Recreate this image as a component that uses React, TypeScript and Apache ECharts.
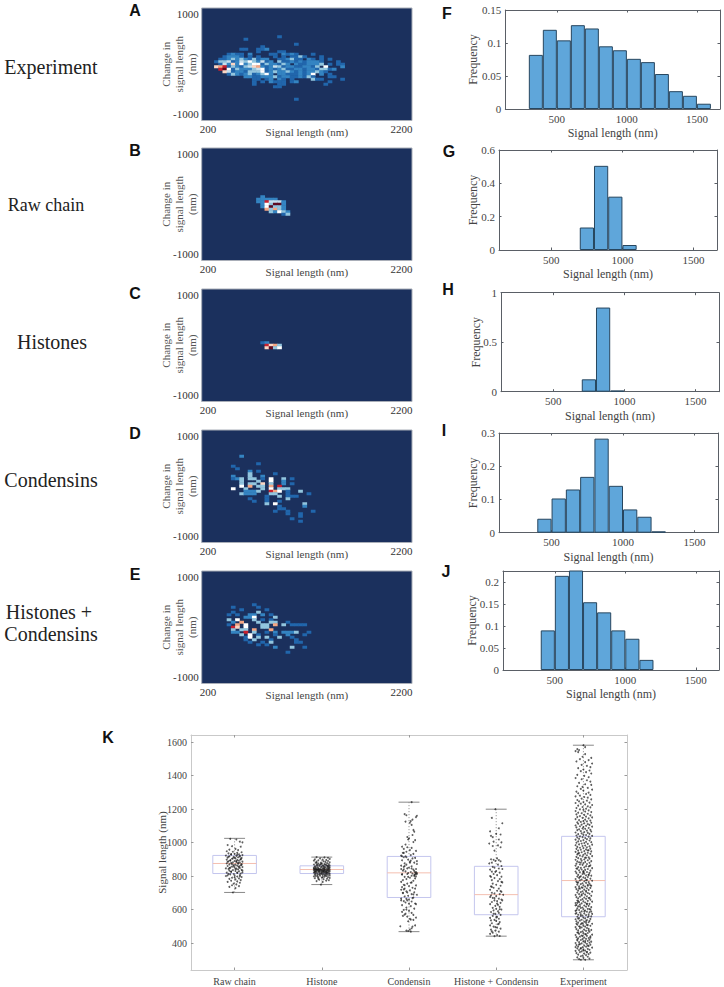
import React, { useEffect, useRef } from "react";
import * as echarts from "echarts";

const SERIF = "'Liberation Serif', 'Times New Roman', serif";
const SANS = "'Liberation Sans', Arial, sans-serif";

// ---- heat map levels (row from top, column = bin, '.' = empty)
const heatColors = ["#2166AC", "#3484C2", "#92C5DE", "#C8E0EE", "#FFFFFF", "#FBD5C2", "#F4A582", "#C8202E", "#5E0A20"];
const heatATop = 11;
const heatARows = [
  "..................1",
  "..........1",
  "",
  "......................1",
  "..............1",
  ".........11..112",
  ".............1....11",
  "......1211.2....11.2121...1",
  ".....12221.1.1...1.1.1131...1",
  "....112323213122..112311.21.1.1",
  "...13341243532412.31121212221...1",
  "....14262523551322132.2112223.1.11",
  "...6781321346721243122112213.5...2",
  "....8951322234512123112212213312",
  ".....6412213335123223212122321",
  "......13212312352.221112125.2.1",
  "..........22112223122112131...11",
  "............11.12.21.1....311....1",
  "............1.1.2111.12.......1..",
  "............1.....11.........1",
  ".................11",
  "",
  "",
  "",
  "",
  "......................1",
];
const heatBTop = 19;
const heatBRows = [
  "..............2",
  ".............22222",
  ".............2284442",
  "..............253992",
  "..............259332",
  "...............73732",
  "................32532",
  "...................13",
];
const heatCTop = 21;
const heatCRows = [
  "..............12",
  "...............8673",
  "...............6935",
];
const heatDTop = 10;
const heatDRows = [
  ".........2",
  "",
  "",
  ".............1",
  ".......1",
  "........1",
  "...........2.1",
  "...........3.....1",
  ".......2...3..2",
  ".......123.33.1.5..3.1",
  ".........3...3..5..2",
  ".........3.33.6.3..2.1",
  ".........5.7.33.7.8",
  ".......5..3...3.5.333",
  "..........2223..875.1..3",
  ".........3222...33..1....1",
  "...............1..3.111",
  "...........1...1....3",
  "............1..1..1",
  "...............3.5......3",
  "..................1.....2",
  "..................11",
  ".................1..1.....1",
  "....................1..1",
  ".......................1",
  ".....................1",
  ".......................1",
];
const heatETop = 13;
const heatERows = [
  "............1",
  ".......1.....1",
  ".........1.....1",
  ".......1.....3",
  "......1.1..22.2.1",
  "..........225....3",
  "......3.5...3.1.1",
  ".......2.7...3..33..1",
  "......1.7.5...33.7.3.1111",
  ".......86.5...33",
  ".......3.33.7...7.",
  ".......22.8.3..1.2.2223..1",
  ".........3.5.1...1..2...1",
  "..........15.3.3..3..1",
  "..........1.3...1.....1",
  "...........1..1.3.....11",
  ".............1.1",
  ".................2...3..1",
  "",
  "....................1",
];

// ---- histogram heights (100 nm bins)
const histStartF = 300;
const histF = [0.082, 0.12, 0.104, 0.127, 0.122, 0.095, 0.089, 0.076, 0.071, 0.053, 0.027, 0.02, 0.008];
const histStartG = 700;
const histG = [0.135, 0.505, 0.32, 0.03];
const histStartH = 700;
const histH = [0.125, 0.85, 0.012];
const histStartI = 400;
const histI = [0.042, 0.103, 0.13, 0.168, 0.283, 0.141, 0.07, 0.048, 0.004];
const histStartJ = 400;
const histJ = [0.09, 0.214, 0.23, 0.154, 0.131, 0.09, 0.071, 0.023];

const ticksF = [0, 0.05, 0.1, 0.15];
const ticksG = [0, 0.2, 0.4, 0.6];
const ticksH = [0, 0.5, 1];
const ticksI = [0, 0.1, 0.2, 0.3];
const ticksJ = [0, 0.05, 0.1, 0.15, 0.2];
const lengthTicks = [500, 1000, 1500];

// ---- box plot
const boxCategories = ["Raw chain", "Histone", "Condensin", "Histone + Condensin", "Experiment"];
// min, q1, median, q3, max
const boxRaw = [702, 815, 875, 923, 1025];
const boxHistone = [749, 815, 839, 861, 913];
const boxCondensin = [468, 672, 819, 917, 1241];
const boxBoth = [441, 569, 689, 858, 1199];
const boxExperiment = [300, 557, 773, 1037, 1581];
const signalTicks = [400, 600, 800, 1000, 1200, 1400, 1600];

// [jitter in hundredths of a category, signal length]
const ptsRaw = [[-5,1022],[2,1018],[6,1005],[9,1001],[-8,985],[-3,978],[7,975],[1,962],[-6,958],[4,955],[-9,948],[-2,945],[8,942],[3,938],[-7,935],[0,932],[5,930],[-4,928],[9,925],[-10,922],[2,920],[-6,918],[6,916],[-1,914],[4,912],[-8,910],[8,908],[1,905],[-3,903],[7,901],[-9,898],[3,896],[-5,894],[5,892],[0,890],[-7,888],[9,886],[2,884],[-2,882],[6,880],[-4,878],[-9,876],[4,874],[8,872],[-6,870],[1,868],[-1,866],[7,864],[3,862],[-8,860],[5,858],[-3,856],[9,854],[0,852],[-5,850],[6,848],[-10,846],[2,844],[-7,842],[4,840],[8,837],[-2,835],[-6,832],[1,830],[5,828],[-4,825],[9,822],[-9,820],[3,818],[7,815],[-1,812],[-5,810],[6,806],[-8,804],[0,802],[-10,800],[3,797],[8,794],[-3,790],[5,786],[-6,783],[1,780],[7,776],[-4,772],[3,768],[-8,765],[6,760],[-1,755],[2,750],[-3,745],[5,740],[-6,735],[1,728],[-2,702],[-4,931],[3,927],[6,921],[-7,915],[0,909],[-2,906],[7,899],[-5,893],[2,889],[-8,885],[4,879],[-3,871],[8,867],[-1,859],[5,853],[-6,847],[1,841],[9,833],[-4,827],[3,821],[-7,813],[6,799],[0,791]];
const ptsHistone = [[-6,913],[3,911],[7,909],[-2,905],[9,902],[-8,900],[1,898],[5,896],[-4,894],[-9,892],[7,890],[2,888],[-6,886],[4,884],[9,882],[-1,880],[-7,879],[6,877],[0,875],[-4,874],[3,872],[8,871],[-9,869],[-2,868],[5,866],[-6,865],[1,864],[9,862],[-3,861],[6,860],[-8,858],[3,857],[0,856],[7,855],[-5,854],[-1,853],[4,852],[9,851],[-9,850],[2,849],[-4,848],[6,847],[-7,846],[1,845],[8,844],[-2,843],[-9,842],[-7,841],[-6,840],[-5,840],[-4,839],[-3,839],[5,838],[0,838],[9,838],[-8,837],[-6,837],[3,836],[-2,836],[7,835],[-5,835],[1,834],[-9,834],[6,833],[-3,833],[4,832],[8,831],[-7,831],[0,830],[2,829],[-4,829],[9,828],[-1,827],[5,827],[-8,826],[3,825],[7,824],[-6,824],[1,823],[-3,822],[6,821],[-9,820],[4,819],[-1,818],[8,817],[-5,816],[2,815],[-7,814],[9,813],[0,812],[5,811],[-3,810],[-8,809],[3,808],[7,807],[-5,806],[1,805],[9,803],[-2,802],[-7,801],[5,800],[-9,798],[3,796],[7,794],[-4,792],[0,790],[-8,787],[6,784],[2,781],[-3,778],[8,775],[-6,770],[1,765],[-1,749],[-6,879],[-1,871],[4,869],[8,858],[-7,853],[3,846],[-4,842],[7,840],[-3,828],[2,826],[-8,822],[6,816],[-2,812],[4,804],[-5,797],[1,793],[9,789],[-4,783],[5,773],[2,861],[-5,867],[7,863],[-9,845],[8,848],[3,842],[-1,837],[2,835],[-7,827],[5,823],[0,819]];
const ptsCondensin = [[3,1241],[-5,1170],[-3,1163],[9,1160],[8,1152],[4,1137],[2,1128],[-4,1125],[1,1118],[3,1105],[5,1075],[6,1065],[4,1045],[-2,1033],[0,1025],[-1,1018],[7,1014],[5,1003],[-4,988],[-8,975],[-2,972],[3,968],[-6,962],[1,955],[8,950],[-3,945],[-7,938],[5,932],[2,925],[-9,922],[-4,918],[-6,912],[7,908],[4,905],[-1,898],[-8,894],[9,889],[1,885],[6,880],[-5,876],[9,872],[-3,868],[-9,862],[3,858],[-6,855],[0,850],[-2,846],[8,842],[5,838],[-7,832],[-4,828],[2,824],[7,821],[-1,818],[4,815],[9,812],[-8,810],[6,806],[3,802],[8,798],[-5,795],[1,790],[7,786],[-3,782],[-7,776],[5,772],[-9,765],[2,760],[-2,755],[-6,748],[8,744],[0,740],[-8,734],[4,730],[-5,725],[-9,718],[1,714],[-3,708],[6,703],[-7,698],[3,692],[9,688],[-1,682],[-5,678],[5,672],[-9,665],[0,660],[-2,655],[-6,650],[3,648],[-4,642],[7,636],[8,632],[-8,626],[2,620],[-3,612],[6,605],[-6,598],[0,592],[-8,586],[3,580],[-4,575],[5,568],[-7,562],[-2,558],[8,552],[1,545],[5,538],[-1,530],[7,505],[4,498],[-10,500],[3,488],[1,480],[-1,472],[2,468],[-3,474],[-6,840],[-9,842],[6,830],[8,824],[9,818],[7,810],[-6,720],[-2,702],[5,690],[-9,655],[0,635],[-3,600],[-5,570],[2,540],[-8,810],[-1,795],[3,762],[-5,745],[7,725],[-7,700],[4,668],[-3,664],[8,814],[6,800],[1,880],[-6,938],[-3,912],[-8,918],[2,892],[-5,860],[3,845],[-2,812]];
const ptsBoth = [[-1,1199],[-5,1147],[7,1115],[3,1085],[-7,1067],[0,1052],[5,1048],[-6,1040],[-4,1032],[3,1018],[-3,1005],[6,1001],[-8,994],[2,983],[-4,979],[5,972],[-2,952],[1,905],[-6,900],[-3,897],[3,895],[-1,890],[5,888],[-5,880],[-8,875],[2,868],[6,860],[-4,855],[-2,850],[3,845],[7,842],[-7,838],[0,830],[-5,826],[4,820],[-3,812],[1,805],[-7,800],[6,796],[-2,788],[4,782],[-5,776],[2,770],[7,762],[-4,755],[0,748],[5,742],[-6,738],[-3,730],[3,725],[-7,718],[1,712],[6,706],[-5,700],[-2,696],[4,692],[8,688],[-6,684],[0,680],[-7,675],[-4,670],[3,665],[6,660],[-2,655],[1,650],[-5,645],[5,640],[-7,632],[2,628],[-1,622],[4,616],[-4,610],[0,604],[6,600],[-3,595],[2,590],[-6,585],[3,580],[-1,574],[5,568],[-4,562],[1,556],[-7,550],[3,545],[-2,538],[0,532],[4,525],[-5,518],[2,512],[-7,505],[-3,498],[1,492],[5,486],[-6,480],[-1,474],[3,468],[-4,462],[-7,455],[1,448],[-2,441],[4,442],[-5,470],[-1,495],[3,515],[-6,535],[0,555],[-3,575],[4,602],[1,635],[-2,668],[5,710],[-5,735],[6,765],[-6,795],[-1,825],[7,655]];
const ptsExperiment = [[0,1581],[2,1570],[-7,1558],[-5,1552],[-9,1546],[-6,1540],[2,1528],[-1,1512],[9,1505],[-4,1498],[6,1492],[-8,1484],[2,1480],[10,1472],[-2,1464],[4,1458],[8,1450],[-6,1444],[0,1436],[7,1430],[-3,1426],[3,1420],[9,1412],[-7,1404],[1,1398],[6,1390],[-9,1385],[-2,1378],[4,1372],[8,1364],[-5,1356],[2,1348],[9,1344],[-7,1336],[-1,1332],[5,1326],[-3,1320],[10,1316],[0,1310],[-8,1304],[6,1298],[-6,1294],[3,1290],[8,1284],[-4,1280],[-9,1276],[1,1272],[5,1268],[-2,1262],[9,1258],[-7,1254],[4,1250],[-5,1246],[0,1242],[7,1238],[-9,1236],[-3,1232],[2,1228],[10,1224],[-6,1220],[5,1216],[-1,1212],[8,1210],[-8,1206],[3,1202],[-4,1198],[0,1195],[6,1192],[-9,1188],[2,1185],[9,1182],[-6,1178],[-2,1175],[5,1172],[-8,1168],[1,1165],[8,1162],[-4,1158],[3,1155],[-7,1152],[10,1150],[-1,1147],[6,1144],[-9,1140],[2,1137],[-5,1134],[8,1131],[0,1128],[4,1126],[-3,1123],[-7,1120],[9,1118],[1,1115],[-6,1112],[5,1110],[-2,1107],[7,1105],[-9,1102],[3,1100],[-4,1097],[10,1095],[0,1092],[-8,1090],[6,1087],[-1,1084],[2,1082],[-5,1079],[8,1076],[-7,1074],[4,1071],[-3,1068],[9,1066],[1,1063],[-9,1060],[5,1058],[-2,1055],[7,1052],[-6,1050],[0,1047],[3,1045],[-8,1042],[10,1040],[-4,1037],[6,1035],[-1,1032],[-7,1030],[2,1027],[8,1025],[-5,1022],[4,1020],[-9,1017],[0,1014],[7,1012],[-3,1009],[-6,1007],[3,1004],[9,1002],[-8,999],[1,997],[-2,994],[5,992],[-5,989],[10,987],[-9,984],[2,982],[-1,979],[7,977],[-7,974],[4,972],[-4,969],[0,967],[8,964],[-8,962],[3,959],[-3,957],[6,954],[-6,952],[1,949],[9,947],[-9,944],[-2,942],[5,939],[-5,937],[2,934],[8,932],[-7,929],[0,927],[4,924],[-4,922],[10,919],[-1,917],[-8,914],[6,912],[3,909],[-6,907],[7,904],[-3,902],[1,899],[-9,897],[5,894],[-2,892],[9,889],[-7,887],[2,884],[-5,882],[7,879],[0,877],[-8,874],[4,872],[-4,869],[-1,867],[8,864],[-9,862],[3,859],[6,857],[-6,854],[1,852],[-3,849],[10,847],[-7,844],[5,842],[-2,839],[2,837],[-5,834],[8,832],[0,829],[-9,827],[4,824],[-4,822],[7,819],[-8,817],[1,814],[-1,812],[6,809],[-6,807],[3,804],[9,802],[-3,799],[-7,797],[5,794],[0,792],[-5,789],[2,787],[8,784],[-9,782],[-2,779],[4,777],[-4,774],[10,772],[1,769],[-8,767],[6,764],[-6,762],[3,759],[-1,757],[7,754],[-3,752],[-7,749],[5,747],[0,744],[9,742],[-5,739],[2,737],[-9,734],[-2,732],[8,729],[4,727],[-4,724],[-8,722],[1,719],[6,717],[-6,714],[3,712],[-1,709],[10,707],[-3,704],[-7,702],[5,699],[0,697],[7,694],[-5,692],[2,689],[-9,687],[-2,684],[9,682],[4,679],[-4,677],[-8,674],[1,672],[6,669],[-6,667],[3,664],[-1,662],[8,659],[-3,657],[-7,654],[5,652],[0,649],[10,647],[-5,644],[2,642],[-9,639],[-2,637],[7,634],[4,632],[-4,629],[-8,627],[1,624],[6,622],[-6,619],[3,617],[9,614],[-1,612],[-3,609],[-7,607],[5,604],[0,602],[8,599],[-5,597],[2,594],[-9,592],[-2,589],[4,587],[7,584],[-4,582],[-8,579],[1,577],[10,574],[6,572],[-6,569],[3,567],[-1,564],[-3,562],[9,559],[-7,557],[5,554],[0,552],[-5,549],[2,547],[8,544],[-9,542],[-2,539],[4,537],[-4,534],[7,532],[-8,529],[1,527],[6,524],[-6,522],[3,520],[-1,517],[10,515],[-3,512],[-7,510],[5,507],[0,505],[8,503],[-5,500],[2,498],[-9,495],[-2,493],[4,490],[-4,488],[6,485],[-8,483],[1,480],[9,478],[-6,475],[3,473],[-1,470],[7,468],[-3,465],[-7,463],[5,460],[0,458],[-5,455],[2,453],[10,450],[-9,448],[-2,445],[4,443],[8,440],[-4,438],[-8,435],[1,433],[6,430],[-6,428],[3,425],[-1,423],[7,420],[-3,418],[-7,415],[5,413],[0,410],[9,408],[-5,405],[2,403],[-9,400],[-2,398],[4,395],[-4,393],[8,390],[-8,388],[1,385],[6,383],[-6,380],[3,378],[-1,375],[10,373],[-3,370],[-7,368],[5,365],[0,363],[7,360],[-5,358],[2,355],[-9,353],[-2,350],[4,348],[-4,346],[8,343],[-8,340],[1,337],[6,334],[-6,331],[3,328],[-1,325],[-3,321],[5,318],[-7,314],[0,311],[7,307],[-5,304],[2,300],[-3,300],[-8,515],[4,508],[-4,497],[6,476],[-6,462],[3,452],[-1,441],[8,432],[-7,421],[2,411],[7,402],[-5,392],[5,384],[-9,376],[-3,367],[0,356],[4,344],[-8,596],[9,588],[-3,571],[6,561],[-6,546],[3,531],[-2,518],[-7,640],[4,635],[-4,618],[7,603],[1,590],[-9,575],[5,742],[-5,728],[3,706],[-2,690],[7,670],[-6,650],[-9,625],[0,822],[6,805],[-4,795],[3,775],[-7,760],[8,745],[-1,730],[5,953],[-6,935],[2,910],[-3,880],[7,860],[-8,845],[0,825]];

const captions: [string, number, number, number][] = [
  ["Experiment", 51, 67, 20],
  ["Raw chain", 46, 205, 18],
  ["Histones", 52, 342, 20],
  ["Condensins", 51, 480, 20],
  ["Histones +", 49, 612, 20],
  ["Condensins", 51, 634, 20],
];
const panelLetters = [
  ["A", 135, 10], ["B", 135, 150], ["C", 135, 293], ["D", 135, 433], ["E", 135, 574],
  ["F", 447, 13], ["G", 449, 151], ["H", 448, 289], ["I", 444, 430], ["J", 446, 571], ["K", 108, 737],
];

const heatPanels: [number, string[], number][] = [
  [heatATop, heatARows, 8],
  [heatBTop, heatBRows, 148],
  [heatCTop, heatCRows, 289],
  [heatDTop, heatDRows, 430],
  [heatETop, heatERows, 571],
];
const HEAT_COLS = 50;
const HEAT_ROWS = 45;
const xLabelAt: Record<number, string> = { 1: "200", 47: "2200" };
const yLabelAt: Record<number, string> = { 42: "1000", 2: "-1000" };

const histPanels: any[] = [
  { start: histStartF, v: histF, ticks: ticksF, box: [505.3, 720, 10, 109], max: 0.15, nameGap: 26 },
  { start: histStartG, v: histG, ticks: ticksG, box: [499, 717, 150, 250], max: 0.6, nameGap: 20 },
  { start: histStartH, v: histH, ticks: ticksH, box: [501, 719, 292.7, 391.7], max: 1, nameGap: 19 },
  { start: histStartI, v: histI, ticks: ticksI, box: [499, 718, 433, 532.7], max: 0.3, nameGap: 20 },
  { start: histStartJ, v: histJ, ticks: ticksJ, box: [503, 719, 571, 670], max: 0.225, nameGap: 25 },
];
const plain = (v: number) => String(v);

const buildOption = () => {
  const grid: any[] = [];
  const xAxis: any[] = [];
  const yAxis: any[] = [];
  const series: any[] = [];

  heatPanels.forEach(([top, rows, py], i) => {
    grid.push({
      left: 201.7, width: 210.3, top: py, height: 112.5, show: true,
      backgroundColor: "#1B305D", borderColor: "#a9aeb8", borderWidth: 1,
    });
    xAxis.push({
      type: "category", gridIndex: i,
      data: Array.from({ length: HEAT_COLS }, (_, c) => xLabelAt[c] ?? `c${c}`),
      name: "Signal length (nm)", nameLocation: "middle", nameGap: 6, nameMoveOverlap: false,
      nameTextStyle: { fontFamily: SERIF, fontSize: 11, color: "#444" },
      axisLine: { show: false }, axisTick: { show: false }, splitLine: { show: false },
      axisLabel: {
        interval: (c: number) => xLabelAt[c] !== undefined, fontFamily: SERIF, fontSize: 11, color: "#333", margin: 3,
      },
    });
    yAxis.push({
      type: "category", gridIndex: i,
      data: Array.from({ length: HEAT_ROWS }, (_, r) => yLabelAt[r] ?? `r${r}`),
      name: "Change in\nsignal length\n(nm)", nameLocation: "middle", nameRotate: 90, nameGap: 3, nameMoveOverlap: false,
      nameTextStyle: { fontFamily: SERIF, fontSize: 11, color: "#555", lineHeight: 13, align: "center" },
      axisLine: { show: false }, axisTick: { show: false }, splitLine: { show: false },
      axisLabel: {
        interval: (r: number) => yLabelAt[r] !== undefined, fontFamily: SERIF, fontSize: 11, color: "#333", margin: 3,
      },
    });
    const data: number[][] = [];
    rows.forEach((line, r) => {
      for (let c = 0; c < line.length; c++) {
        if (line[c] !== ".") data.push([c, HEAT_ROWS - 1 - (top + r), Number(line[c])]);
      }
    });
    series.push({ type: "heatmap", xAxisIndex: i, yAxisIndex: i, data, itemStyle: { borderWidth: 0 }, emphasis: { disabled: true } });
  });

  const frame = { show: true, onZero: false, lineStyle: { color: "#5a5f66", width: 1 } };
  const tickIn = (values: number[], color = "#5a5f66") => ({ show: true, inside: true, length: 2.5, customValues: values, lineStyle: { color } });
  const rangeLen = [132, 1665];

  histPanels.forEach((p, k) => {
    const g = 5 + k;
    const [l, r, t, b] = p.box;
    grid[g] = { left: l, width: r - l, top: t, height: b - t };
    xAxis[g] = {
      type: "value", gridIndex: g, min: rangeLen[0], max: rangeLen[1], position: "bottom",
      name: "Signal length (nm)", nameLocation: "middle", nameGap: 18, nameMoveOverlap: false,
      nameTextStyle: { fontFamily: SERIF, fontSize: 12, color: "#444" },
      axisLine: frame, axisTick: tickIn(lengthTicks), splitLine: { show: false },
      axisLabel: { customValues: lengthTicks, formatter: plain, fontFamily: SERIF, fontSize: 11, color: "#444", margin: 4 },
    };
    yAxis[g] = {
      type: "value", gridIndex: g, min: 0, max: p.max, position: "left",
      name: "Frequency", nameLocation: "middle", nameRotate: 90, nameGap: p.nameGap, nameMoveOverlap: false,
      nameTextStyle: { fontFamily: SERIF, fontSize: 12, color: "#444" },
      axisLine: frame, axisTick: tickIn(p.ticks), splitLine: { show: false },
      axisLabel: { customValues: p.ticks, formatter: plain, fontFamily: SERIF, fontSize: 11, color: "#444", margin: 4 },
    };
    xAxis[g + 5] = {
      type: "value", gridIndex: g, min: rangeLen[0], max: rangeLen[1], position: "top",
      axisLine: frame, axisTick: tickIn(lengthTicks), splitLine: { show: false }, axisLabel: { show: false },
    };
    yAxis[g + 5] = {
      type: "value", gridIndex: g, min: 0, max: p.max, position: "right",
      axisLine: frame, axisTick: tickIn(p.ticks), splitLine: { show: false }, axisLabel: { show: false },
    };
    series.push({
      type: "bar", xAxisIndex: g, yAxisIndex: g, barWidth: "100%",
      data: p.v.map((y: number, i: number) => [p.start + i * 100 + 50, y]),
      itemStyle: { color: "#5FA6DA", borderColor: "#27465F", borderWidth: 1 },
      emphasis: { disabled: true },
    });
  });

  // box panel: grid 10 shows the axes, grid 11 has the same rect and carries the marks
  const kRect = { left: 191, width: 436, top: 735, height: 235 };
  const kMin = 239;
  const kMax = 1642;
  const lightFrame = { show: true, onZero: false, lineStyle: { color: "#c9c9c9", width: 1 } };
  const lightTick = { show: true, inside: true, length: 2.5, alignWithLabel: true, lineStyle: { color: "#999" } };
  grid[10] = { ...kRect };
  grid[11] = { ...kRect };
  xAxis[15] = {
    type: "category", gridIndex: 10, data: boxCategories, position: "bottom",
    axisLine: lightFrame, axisTick: lightTick,
    axisLabel: { interval: 0, fontFamily: SERIF, fontSize: 10, color: "#444", margin: 6 },
  };
  xAxis[16] = {
    type: "category", gridIndex: 10, data: boxCategories, position: "top",
    axisLine: lightFrame, axisTick: lightTick, axisLabel: { show: false },
  };
  xAxis[17] = { type: "value", gridIndex: 11, min: -0.5, max: 4.5, show: false };
  yAxis[15] = {
    type: "value", gridIndex: 10, min: kMin, max: kMax, position: "left",
    name: "Signal length (nm)", nameLocation: "middle", nameRotate: 90, nameGap: 24, nameMoveOverlap: false,
    nameTextStyle: { fontFamily: SERIF, fontSize: 11, color: "#444" },
    axisLine: lightFrame, axisTick: { show: true, inside: true, length: 2.5, customValues: signalTicks, lineStyle: { color: "#999" } },
    splitLine: { show: false },
    axisLabel: { customValues: signalTicks, formatter: plain, fontFamily: SERIF, fontSize: 10, color: "#444", margin: 4 },
  };
  yAxis[16] = {
    type: "value", gridIndex: 10, min: kMin, max: kMax, position: "right",
    axisLine: lightFrame, axisTick: { show: true, inside: true, length: 2.5, customValues: signalTicks, lineStyle: { color: "#999" } },
    splitLine: { show: false }, axisLabel: { show: false },
  };
  yAxis[17] = { type: "value", gridIndex: 11, min: kMin, max: kMax, show: false };

  const boxData = [boxRaw, boxHistone, boxCondensin, boxBoth, boxExperiment].map((b, i) => [i, ...b]);
  series.push({
    type: "custom", xAxisIndex: 17, yAxisIndex: 17, data: boxData,
    encode: { x: 0, y: [1, 2, 3, 4, 5] },
    renderItem: (_: any, api: any) => {
      const c = api.value(0);
      const pt = (dx: number, v: number) => api.coord([c + dx, v]);
      const [mn, q1, md, q3, mx] = [1, 2, 3, 4, 5].map((d) => api.value(d));
      const seg = (a: number[], b: number[], stroke: string, extra: any = {}) => ({
        type: "line", shape: { x1: a[0], y1: a[1], x2: b[0], y2: b[1] },
        style: { stroke, lineWidth: 1, fill: "none", ...extra },
      });
      const bw = 0.25;
      const cap = 0.12;
      const tl = pt(-bw, q3);
      const br = pt(bw, q1);
      return {
        type: "group",
        children: [
          seg(pt(0, mx), pt(0, q3), "#888", { lineDash: [1, 2] }),
          seg(pt(0, q1), pt(0, mn), "#888", { lineDash: [1, 2] }),
          seg(pt(-cap, mx), pt(cap, mx), "#888"),
          seg(pt(-cap, mn), pt(cap, mn), "#888"),
          { type: "rect", shape: { x: tl[0], y: tl[1], width: br[0] - tl[0], height: br[1] - tl[1] }, style: { fill: "none", stroke: "#C4C6EE", lineWidth: 1 } },
          seg(pt(-bw, md), pt(bw, md), "#F4BFB0"),
        ],
      };
    },
  });
  [ptsRaw, ptsHistone, ptsCondensin, ptsBoth, ptsExperiment].forEach((pts, i) => {
    series.push({
      type: "scatter", xAxisIndex: 17, yAxisIndex: 17, symbolSize: 1.9,
      data: pts.map(([dx, v]) => [i + dx / 100, v]),
      itemStyle: { color: "#1a1a1a", opacity: 0.7 },
      emphasis: { disabled: true },
    });
  });

  const graphic = [
    ...captions.map(([text, x, y, size]) => ({
      type: "text", x, y, silent: true,
      style: { text, fontFamily: SERIF, fontSize: size, fill: "#222", align: "center", verticalAlign: "middle" },
    })),
    ...panelLetters.map(([text, x, y]) => ({
      type: "text", x, y, silent: true,
      style: { text, fontFamily: SANS, fontWeight: "bold", fontSize: 16, fill: "#111", align: "center", verticalAlign: "middle" },
    })),
  ];

  return {
    animation: false,
    backgroundColor: "#ffffff",
    grid, xAxis, yAxis, series, graphic,
    visualMap: {
      type: "continuous", show: false, min: 1, max: 9, seriesIndex: [0, 1, 2, 3, 4],
      inRange: { color: heatColors },
    },
  };
};

export default function App() {
  const ref = useRef<HTMLDivElement>(null);
  useEffect(() => {
    const chart = echarts.init(ref.current!, undefined, { renderer: "svg" });
    chart.setOption(buildOption() as any);
    return () => chart.dispose();
  }, []);
  return <div ref={ref} style={{ position: "absolute", left: 0, top: 0, width: 724, height: 987 }} />;
}
